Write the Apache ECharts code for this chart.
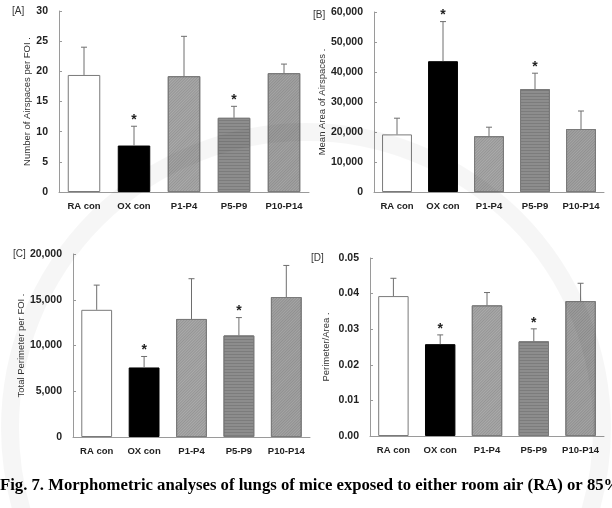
<!DOCTYPE html>
<html>
<head>
<meta charset="utf-8">
<script src="https://cdn.jsdelivr.net/npm/echarts@6/dist/echarts.min.js"></script>
<style>
  html, body { margin: 0; padding: 0; background: #fff; }
  #chart { width: 612px; height: 508px; }
</style>
</head>
<body>
<div id="chart"></div>
<script>
// groups on the x axis
const categories = ['RA con', 'OX con', 'P1-P4', 'P5-P9', 'P10-P14'];
// * above the bar = significant vs RA con
const significant = [false, true, false, true, false];

// [A] number of airspaces per FOI
const airspaceCount = [19.4, 7.7, 19.2, 12.3, 19.7];
const airspaceCountSd = [4.6, 3.2, 6.6, 1.9, 1.5];
// [B] mean area of airspaces
const meanArea = [19200, 43600, 18600, 34300, 21000];
const meanAreaSd = [5400, 13200, 3000, 5300, 6000];
// [C] total perimeter per FOI
const totalPerimeter = [13900, 7600, 12900, 11100, 15300];
const totalPerimeterSd = [2700, 1200, 4400, 1950, 3450];
// [D] perimeter / area
const perimArea = [0.0393, 0.0258, 0.0367, 0.0266, 0.0379];
const perimAreaSd = [0.0050, 0.0026, 0.0036, 0.0035, 0.0050];

const FONT = '"Liberation Sans", Arial, sans-serif';

// fill per group (white, black, hatched greys)
const barFill = ['#ffffff', '#000000', '#ababab', '#8d8d8d', '#a5a5a5'];
const diag = { symbol: 'rect', symbolSize: 1, color: 'rgba(0,0,0,0.13)', dashArrayX: [1, 0], dashArrayY: [1, 1], rotation: -Math.PI / 4 };
const horiz = { symbol: 'rect', symbolSize: 1, color: 'rgba(0,0,0,0.12)', dashArrayX: [1, 0], dashArrayY: [1, 2], rotation: 0 };
const barDecal = [null, null, diag, horiz, diag];

const panels = [
  { tag: '[A]', name: 'Number of Airspaces per FOI .', vals: airspaceCount, sd: airspaceCountSd,
    max: 30, step: 5, fmt: v => String(v),
    grid: { left: 59, top: 11, width: 250, height: 181 }, nameGap: 27, tagPos: [12, 6] },
  { tag: '[B]', name: 'Mean Area of Airspaces .', vals: meanArea, sd: meanAreaSd,
    max: 60000, step: 10000, fmt: v => v.toLocaleString('en-US'),
    grid: { left: 374, top: 12, width: 230, height: 180 }, nameGap: 45, tagPos: [313, 10] },
  { tag: '[C]', name: 'Total Perimeter per FOI .', vals: totalPerimeter, sd: totalPerimeterSd,
    max: 20000, step: 5000, fmt: v => v.toLocaleString('en-US'),
    grid: { left: 73, top: 254, width: 237, height: 183 }, nameGap: 43, tagPos: [13, 249] },
  { tag: '[D]', name: 'Perimeter/Area .', vals: perimArea, sd: perimAreaSd,
    max: 0.05, step: 0.01, fmt: v => v.toFixed(2),
    grid: { left: 370, top: 258, width: 234, height: 178 }, nameGap: 39, tagPos: [311, 253] }
];

const grid = [], xAxis = [], yAxis = [], series = [], graphic = [];

panels.forEach((p, k) => {
  grid.push(Object.assign({ outerBoundsMode: 'none', containLabel: false }, p.grid));
  xAxis.push({
    type: 'category', gridIndex: k, data: categories,
    axisLine: { lineStyle: { color: '#9a9a9a', width: 1 } },
    axisTick: { inside: true, length: 3, lineStyle: { color: '#9a9a9a' } },
    axisLabel: { color: '#222', fontFamily: FONT, fontWeight: 'bold', fontSize: 9.5, margin: 9, interval: 0 },
    splitLine: { show: false }
  });
  yAxis.push({
    type: 'value', gridIndex: k, min: 0, max: p.max, interval: p.step,
    name: p.name, nameLocation: 'middle', nameGap: p.nameGap,
    nameTextStyle: { color: '#333', fontFamily: FONT, fontSize: 9.5 },
    axisLine: { show: true, lineStyle: { color: '#9a9a9a', width: 1 } },
    axisTick: { show: true, inside: true, length: 3, lineStyle: { color: '#9a9a9a' } },
    axisLabel: { color: '#222', fontFamily: FONT, fontWeight: 'bold', fontSize: 10.5, margin: 11, formatter: p.fmt },
    splitLine: { show: false }
  });
  series.push({
    type: 'bar', xAxisIndex: k, yAxisIndex: k, barWidth: '65%',
    data: p.vals.map((v, i) => ({
      value: v,
      itemStyle: {
        color: barFill[i],
        borderColor: i === 1 ? '#000' : '#7a7a7a',
        borderWidth: 1,
        decal: barDecal[i] || undefined
      }
    })),
    z: 2
  });
  // upper error bar + significance star
  series.push({
    type: 'custom', xAxisIndex: k, yAxisIndex: k, z: 3,
    data: p.vals.map((v, i) => [i, v, p.sd[i], significant[i] ? 1 : 0]),
    encode: { x: 0, y: 1 },
    renderItem: (params, api) => {
      const i = api.value(0), v = api.value(1), s = api.value(2);
      const base = api.coord([i, v]);
      const top = api.coord([i, v + s]);
      const children = [
        { type: 'line', shape: { x1: base[0], y1: base[1], x2: top[0], y2: top[1] }, style: { stroke: '#6e6e6e', lineWidth: 1 } },
        { type: 'line', shape: { x1: top[0] - 3, y1: top[1], x2: top[0] + 3, y2: top[1] }, style: { stroke: '#6e6e6e', lineWidth: 1 } }
      ];
      if (api.value(3)) {
        children.push({ type: 'text', style: { text: '*', x: top[0], y: top[1] - 6, align: 'center', verticalAlign: 'middle',
          font: 'bold 14px ' + FONT, fill: '#222' } });
      }
      return { type: 'group', children };
    }
  });
  graphic.push({ type: 'text', left: p.tagPos[0], top: p.tagPos[1],
    style: { text: p.tag, font: '10px ' + FONT, fill: '#333' } });
});

// faint seal watermark ring of the scanned page
graphic.push({ type: 'circle', z: 100, silent: true,
  shape: { cx: 306, cy: 428, r: 296 },
  style: { fill: 'none', stroke: 'rgba(0,0,0,0.035)', lineWidth: 18 } });

graphic.push({ type: 'text', left: 0, top: 477,
  style: { text: 'Fig. 7. Morphometric analyses of lungs of mice exposed to either room air (RA) or 85%',
    font: 'bold 16.7px "Liberation Serif", "Times New Roman", serif', fill: '#000' } });

const chart = echarts.init(document.getElementById('chart'), null, { renderer: 'canvas' });
chart.setOption({
  animation: false,
  backgroundColor: '#fff',
  grid, xAxis, yAxis, series, graphic
});
</script>
</body>
</html>
